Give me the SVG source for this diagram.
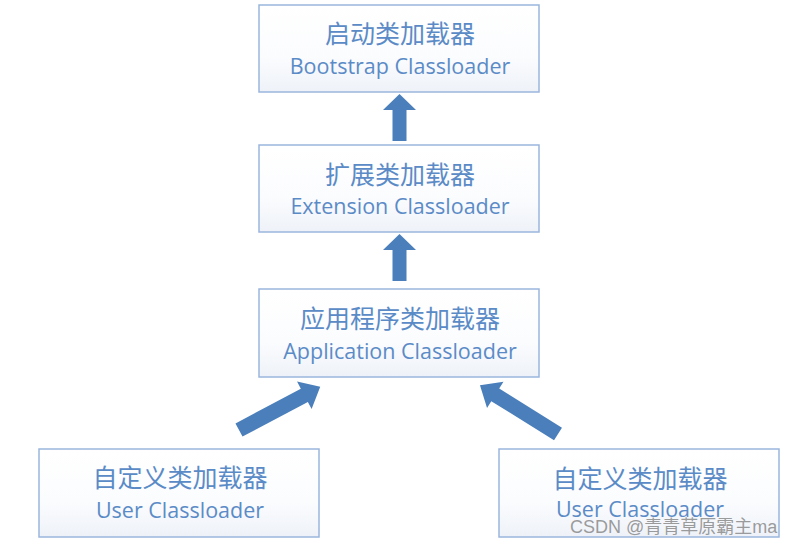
<svg xmlns="http://www.w3.org/2000/svg" width="802" height="546" viewBox="0 0 802 546">
<defs>
<linearGradient id="bg" x1="0" y1="0" x2="0" y2="1">
<stop offset="0" stop-color="#ffffff"/>
<stop offset="0.6" stop-color="#fbfcfe"/>
<stop offset="1" stop-color="#eef2f8"/>
</linearGradient>
<path id="arr" d="M0,-7.5 L74,-7.5 L74,-15.5 L92,0 L74,15.5 L74,7.5 L0,7.5 Z"/>
</defs>
<style>
.box{fill:url(#bg);stroke:#9ab6dc;stroke-width:1.5}
.zh{font-family:"Noto Sans CJK SC",sans-serif;font-size:25px;fill:#5b8bc7;text-anchor:middle}
.en{font-family:"Open Sans","Noto Sans",sans-serif;font-size:21.5px;fill:#5b8bc7;text-anchor:middle}
.arrow{fill:#4a7fbb}
.wm{font-family:"Liberation Sans","Noto Sans CJK SC",sans-serif;font-size:18px;fill:#8a8a8a;fill-opacity:0.85}
</style>
<rect width="802" height="546" fill="#ffffff"/>
<g id="connectors">
<path class="arrow" d="M392.5,141 L392.5,110 L383,110 L399.5,94 L416,110 L406.5,110 L406.5,141 Z"/>
<path class="arrow" d="M392.5,281 L392.5,250 L383,250 L399.5,234 L416,250 L406.5,250 L406.5,281 Z"/>
<use href="#arr" class="arrow" transform="translate(239,430) rotate(-28)"/>
<use href="#arr" class="arrow" transform="translate(558,434) rotate(-148)"/>
</g>
<g id="bootstrap">
<rect class="box" x="259" y="5" width="280" height="87"/>
<text class="zh" x="400" y="43">启动类加载器</text>
<text class="en" x="400" y="74">Bootstrap Classloader</text>
</g>
<g id="extension">
<rect class="box" x="259" y="145" width="280" height="87"/>
<text class="zh" x="400" y="184">扩展类加载器</text>
<text class="en" x="400" y="214">Extension Classloader</text>
</g>
<g id="application">
<rect class="box" x="259" y="289" width="280" height="88"/>
<text class="zh" x="400" y="328">应用程序类加载器</text>
<text class="en" x="400" y="359">Application Classloader</text>
</g>
<g id="user1">
<rect class="box" x="39" y="449" width="280" height="88"/>
<text class="zh" x="180" y="487">自定义类加载器</text>
<text class="en" x="180" y="518">User Classloader</text>
</g>
<g id="user2">
<rect class="box" x="499" y="449" width="280" height="88"/>
<text class="zh" x="640" y="488">自定义类加载器</text>
<text class="en" x="640" y="517">User Classloader</text>
</g>
<text class="wm" x="570" y="533">CSDN @青青草原霸主ma</text>
</svg>
